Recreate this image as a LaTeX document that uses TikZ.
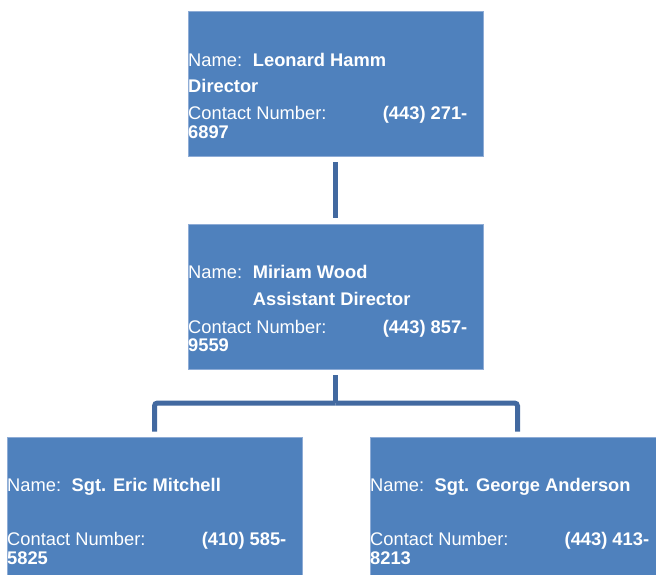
\documentclass[tikz,border=0pt]{standalone}
\usepackage{fontspec}
\setmainfont{Liberation Sans}
\usetikzlibrary{calc}
\definecolor{boxblue}{HTML}{4F81BD}
\definecolor{boxedge}{HTML}{8EACD6}
\definecolor{linkblue}{HTML}{4269A0}
\tikzset{
  person/.style={fill=boxblue, draw=boxedge, line width=0.6pt,
    minimum width=295pt, minimum height=145pt, inner sep=0pt},
  lbl/.style={anchor=base west, inner sep=0pt, text=white,
    font=\fontsize{18.3}{18.3}\selectfont},
  val/.style={lbl, font=\fontsize{18.3}{18.3}\selectfont\bfseries},
  link/.style={draw=linkblue, line width=5pt, rounded corners=3pt},
}
\begin{document}
\begin{tikzpicture}[x=1pt,y=-1pt]
\useasboundingbox (0,0) rectangle (656,575);
\clip (0,0) rectangle (656,575);

% boxes
\node[person] (dir)  at (335.5,83.5)  {};
\node[person] (asst) at (335.5,296.5) {};
\node[person] (sgtA) at (154.5,509.5) {};
\node[person] (sgtB) at (517.5,509.5) {};

% connectors
\coordinate (hub) at (335.5,403);
\draw[link] ($(dir.south)+(0,6)$) -- ($(asst.north)+(0,-6)$);
\draw[link] ($(asst.south)+(0,6)$) -- (hub);
\draw[link] (hub) -| ($(sgtA.north)+(0,-5)$);
\draw[link] (hub) -| ($(sgtB.north)+(0,-5)$);

% Director
\node[lbl] (dirN)  at (188,66.3)  {Name:};
\node[val] (dirNv) at (252.7,66.3) {Leonard Hamm};
\node[val] (dirT)  at (188,93)    {Director};
\node[lbl] (dirC)  at (188,120)   {Contact Number:};
\node[val] (dirP)  at (382.7,120) {(443) 271-};
\node[val] (dirP2) at (188,138.3) {6897};

% Assistant Director
\node[lbl] (asN)  at (188,278.3)   {Name:};
\node[val] (asNv) at (252.7,278.3) {Miriam Wood};
\node[val] (asT)  at (252.7,305.7) {Assistant Director};
\node[lbl] (asC)  at (188,333.3)   {Contact Number:};
\node[val] (asP)  at (382.7,333.3) {(443) 857-};
\node[val] (asP2) at (188,351.6)   {9559};

% Sgt. Eric Mitchell
\node[lbl] (aN)  at (7,491.7)     {Name:};
\node[val] (aNv) at (71.5,491.7)  {Sgt. Eric Mitchell};
\node[lbl] (aC)  at (7,545.7)     {Contact Number:};
\node[val] (aP)  at (201.7,545.7) {(410) 585-};
\node[val] (aP2) at (7,564)       {5825};

% Sgt. George Anderson
\node[lbl] (bN)  at (370,491.7)   {Name:};
\node[val] (bNv) at (434.5,491.7) {Sgt. George Anderson};
\node[lbl] (bC)  at (370,545.7)   {Contact Number:};
\node[val] (bP)  at (564.5,545.7) {(443) 413-};
\node[val] (bP2) at (370,564)     {8213};
\end{tikzpicture}
\end{document}
